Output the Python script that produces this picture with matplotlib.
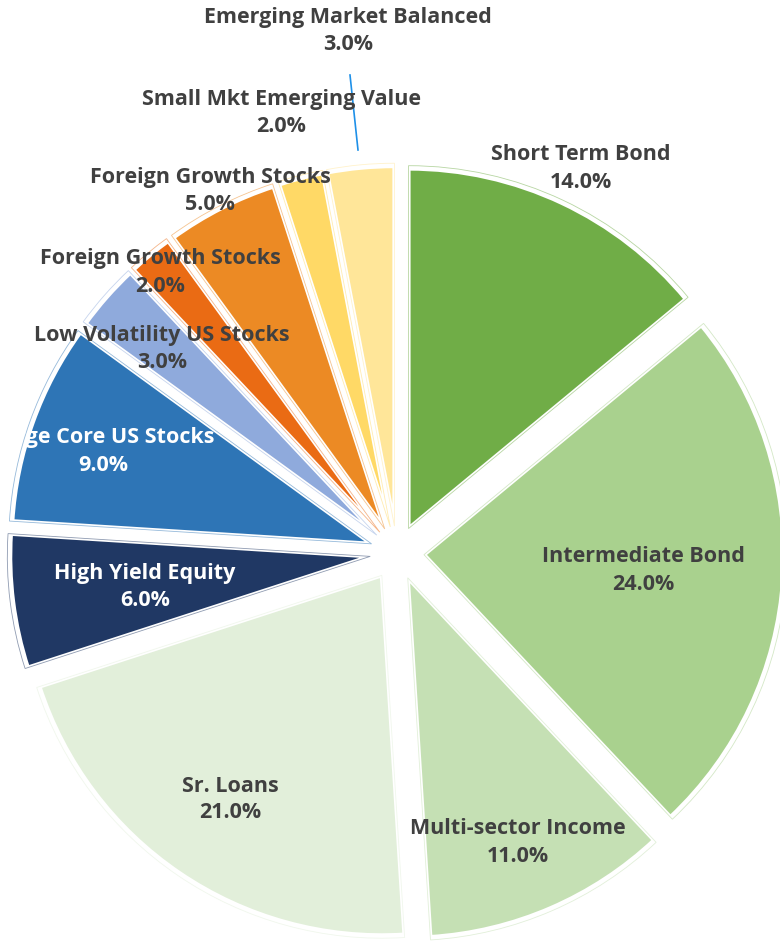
import numpy as np
from matplotlib import pyplot as plt

categories = ['Short Term Bond', 'Intermediate Bond', 'Multi-sector Income', 'Sr. Loans',
              'High Yield Equity', 'Large Core US Stocks', 'Low Volatility US Stocks',
              'Foreign Growth Stocks', 'Foreign Growth Stocks', 'Small Mkt Emerging Value',
              'Emerging Market Balanced']
values = [14.0, 24.0, 11.0, 21.0, 6.0, 9.0, 3.0, 2.0, 5.0, 2.0, 3.0]
colors = ['#70AD47', '#A9D18E', '#C5E0B4', '#E2EFDA', '#203864', '#2E75B6',
          '#8FAADC', '#EA6B14', '#EC8A24', '#FFD966', '#FFE699']
text_colors = ['#404040'] * 4 + ['white', 'white'] + ['#404040'] * 5

# label centres in pixels (x, y of first line, from top)
label_pos = [(581, 155), (643, 557), (518, 829), (230, 786), (145, 574), (103, 438),
             (162, 336), (160, 259), (210, 178), (281, 99), (348, 18)]

W, H = 780, 943
R = 360.0
cx, cy = 397, 553

fig = plt.figure(figsize=(W / 100, H / 100), dpi=100)
ax = fig.add_axes([0, 0, 1, 1])

explode = [0.075] * len(values)
ax.pie(values, colors=colors, startangle=90, counterclock=False, explode=explode,
       radius=1.0, wedgeprops=dict(edgecolor='white', linewidth=3))
outline, _ = ax.pie(values, colors=['none'] * len(values), startangle=90, counterclock=False,
                    explode=explode, radius=1.008,
                    wedgeprops=dict(linewidth=0.6, fill=False))
for w, c in zip(outline, colors):
    w.set_edgecolor(c)
    w.set_alpha(0.5)

ax.set_xlim((0 - cx) / R, (W - cx) / R)
ax.set_ylim((cy - H) / R, cy / R)
ax.axis('off')

for name, v, (px, py), tc in zip(categories, values, label_pos, text_colors):
    for k, s in enumerate([name, f'{v:.1f}%']):
        ax.text(px / W, 1 - (py + 27 * k) / H, s, transform=ax.transAxes,
                ha='center', va='center', fontsize=15.5, fontweight='bold', color=tc,
                family=['Open Sans', 'DejaVu Sans'])

# leader line for Emerging Market Balanced
ax.plot([350 / W, 358 / W], [1 - 75 / H, 1 - 150 / H], transform=ax.transAxes,
        color='#1E90E8', lw=1.2)

plt.savefig('out.png', dpi=100)
